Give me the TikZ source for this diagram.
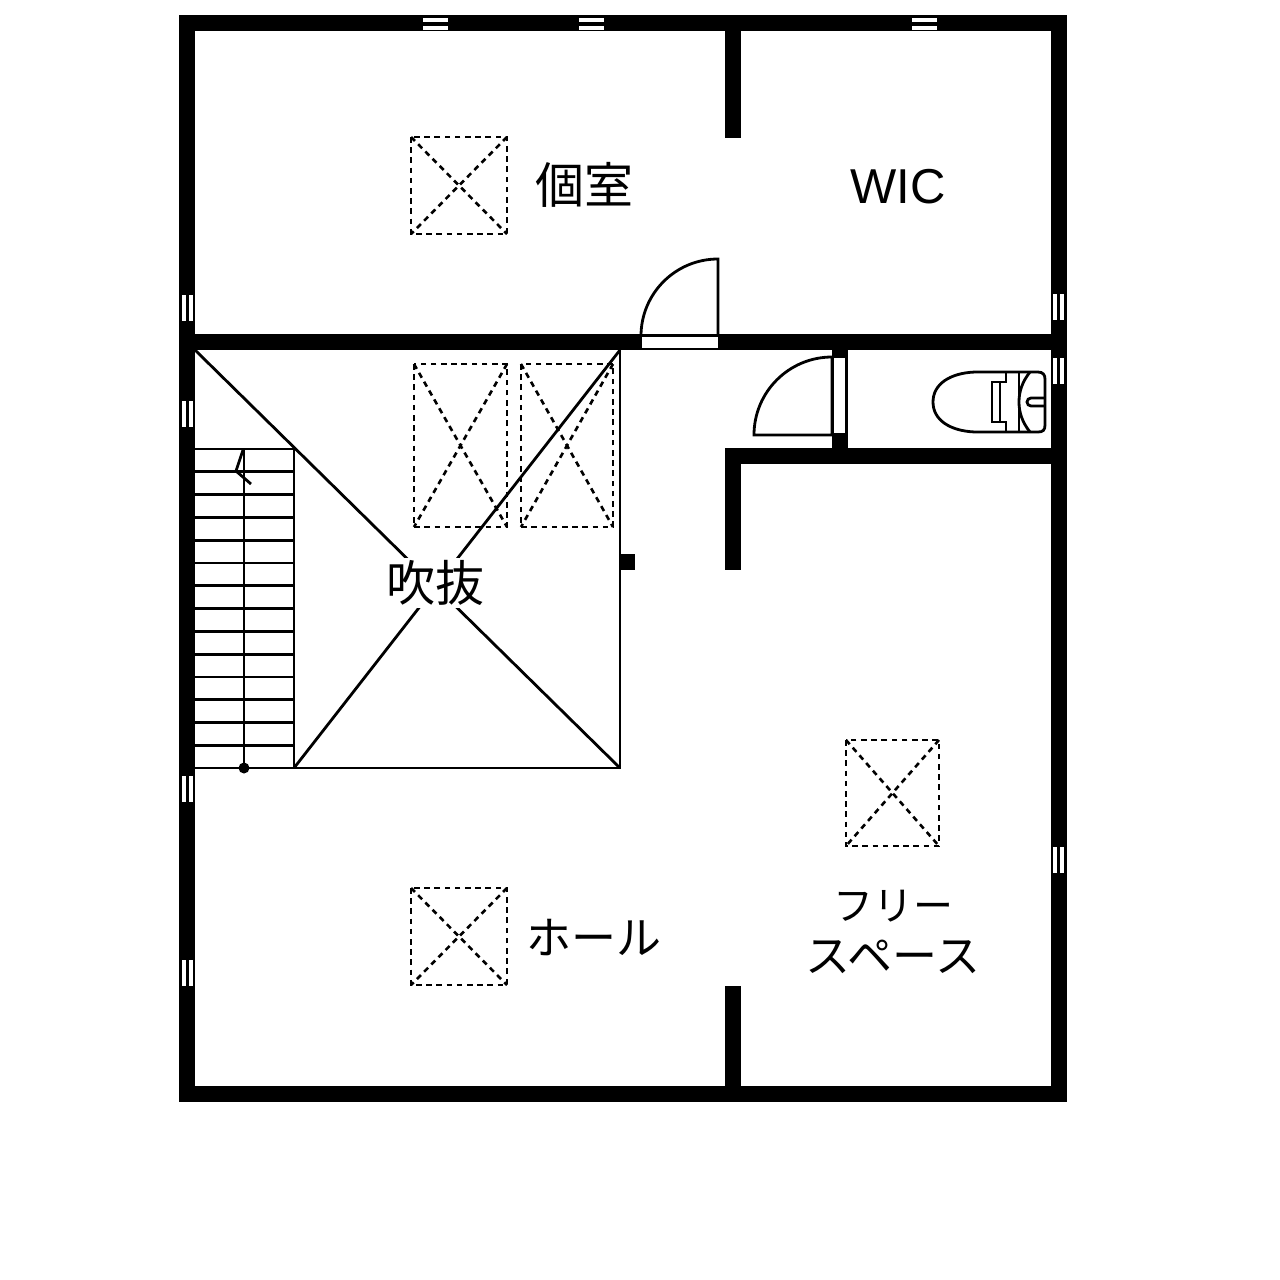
\documentclass[tikz,border=0pt]{standalone}
\usepackage{fontspec}
\setsansfont{Liberation Sans}
\newfontfamily\jpfont{Noto Sans CJK JP}
\usetikzlibrary{calc}
\newcommand{\wallwidth}{8pt}
\newcommand{\thinwidth}{1.4pt}
\tikzset{
  wall/.style={black,line width=\wallwidth},
  thin line/.style={black,line width=\thinwidth},
  dash line/.style={black,line width=1.3pt,dash pattern=on 2.8pt off 2.3pt},
  glass/.style={fill=white,draw=none},
  room/.style={inner sep=0pt,font=\jpfont\fontsize{24.5}{25}\selectfont},
  kana/.style={inner sep=0pt,font=\jpfont\fontsize{22.5}{23}\selectfont},
}
\newcommand{\hwindow}[1]{
\fill[glass] (#1,18) rectangle (#1+25,22);
\fill[glass] (#1,26) rectangle (#1+25,30);
}
\newcommand{\lwindow}[1]{
\fill[glass] (182,#1) rectangle (186,#1+26);
\fill[glass] (189,#1) rectangle (193,#1+26);
}
\newcommand{\rwindow}[1]{
\fill[glass] (1053,#1) rectangle (1057,#1+26);
\fill[glass] (1060,#1) rectangle (1064,#1+26);
}
\newcommand{\hatchbox}[4]{
\draw[dash line] (#1,#2) rectangle (#3,#4);
\draw[dash line] (#1,#2) -- (#3,#4);
\draw[dash line] (#3,#2) -- (#1,#4);
}

\begin{document}
\begin{tikzpicture}[x=0.5pt,y=-0.5pt]
\useasboundingbox (0,0) rectangle (1280,1280);
%walls
\draw[wall] (187,23) rectangle (1059,1094);
\draw[wall] (187,342) -- (1059,342);
\draw[wall] (733,31) -- (733,138);
\draw[wall] (1059,456) -- (733,456) -- (733,570);
\draw[wall] (840,350) -- (840,456);
\draw[wall] (733,986) -- (733,1086);
\fill[black] (620,554) rectangle (635,570);
%windows
\hwindow{423}
\hwindow{579}
\hwindow{912}
\lwindow{295}
\lwindow{401}
\lwindow{776}
\lwindow{960}
\rwindow{294}
\rwindow{358}
\rwindow{847}
%doors
\fill[glass] (642,337) rectangle (718,348);
\draw[thin line] (641,336) arc[start angle=180,end angle=270,radius=77] -- (718,336);
\fill[glass] (834,358) rectangle (845,433);
\draw[thin line] (832,357) -- (832,435) -- (754,435) arc[start angle=180,end angle=270,radius=78];
%void
\draw[thin line] (620,350) -- (620,768) -- (195,768);
\draw[thin line] (195,350) -- (620,768);
\draw[thin line] (620,350) -- (294,768);
%stairs
\draw[thin line] (195,449) -- (294,449) -- (294,768);
\foreach \k in {1,...,13}
  \draw[thin line] (195,449+22.79*\k) -- (294,449+22.79*\k);
\draw[thin line] (244,449) -- (244,768);
\fill[black] (244,768) circle (5.5);
\draw[thin line] (243,450) -- (236,471) -- (251,484);
%hatch
\hatchbox{411}{137}{507}{234}
\hatchbox{414}{364}{507}{527}
\hatchbox{521}{364}{613}{527}
\hatchbox{846}{740}{939}{846}
\hatchbox{411}{888}{507}{985}
%toilet
\draw[thin line] (975,372) -- (1038,372) .. controls (1043,372) and (1045,375) .. (1045,379) -- (1045,425) .. controls (1045,430) and (1043,432) .. (1038,432) -- (975,432) .. controls (950,431) and (933,420) .. (933,402) .. controls (933,384) and (950,373) .. (975,372) -- cycle;
\draw[thin line] (1006,372) -- (1006,382) -- (992,382) -- (992,422) -- (1006,422) -- (1006,432);
\draw[thin line] (1000,382) -- (1000,422);
\draw[thin line] (1019,372) -- (1019,432);
\draw[thin line] (1030,372) .. controls (1022,382) and (1019,392) .. (1019,402) .. controls (1019,412) and (1022,422) .. (1030,432);
\draw[thin line] (1045,398) -- (1031,398) arc[start angle=270,end angle=90,radius=4] -- (1045,406);
%labels
\node[room] (kojitsu) at (584,185) {個室};
\node[inner sep=0pt,font=\sffamily\fontsize{24.5}{26}\selectfont] (wic) at (898,187) {WIC};
\node[room,fill=white,inner sep=1pt] (fukinuke) at (435,583) {吹抜};
\node[kana] (hall) at (594,937) {ホール};
\node[kana,font=\jpfont\fontsize{20}{23}\selectfont] (free) at (893,906) {フリー};
\node[kana] (space) at (893,957) {スペース};
\end{tikzpicture}
\end{document}
